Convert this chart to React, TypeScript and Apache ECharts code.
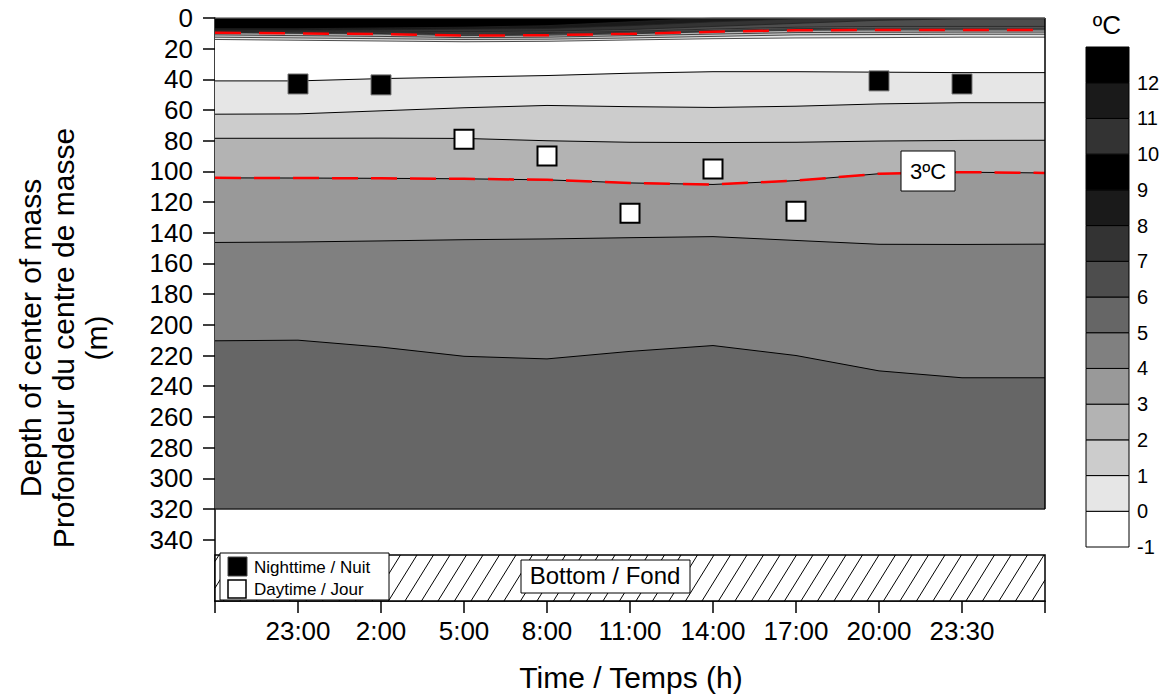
import React, { useEffect, useRef } from "react";
import * as echarts from "echarts";

const FONT = "'Liberation Sans', Arial, sans-serif";

// X positions (index of time tick) and their labels
const X_POS = [0, 1, 2, 3, 4, 5, 6, 7, 8, 9, 10];
const TIME_LABELS = ["", "23:00", "2:00", "5:00", "8:00", "11:00", "14:00", "17:00", "20:00", "23:30", ""];

// Depth axis
const Y_TICKS = [0, 20, 40, 60, 80, 100, 120, 140, 160, 180, 200, 220, 240, 260, 280, 300, 320, 340];
const AXIS_MAX = 380;
const DATA_BOTTOM = 320;
const SEABED_TOP = 350;

// Colour scale (ºC): band [T, T+1] uses COLORBAR_COLORS[T + 1]
const COLOR_LEVELS = [-1, 0, 1, 2, 3, 4, 5, 6, 7, 8, 9, 10, 11, 12];
const COLORBAR_COLORS = [
  "#ffffff", "#e6e6e6", "#cccccc", "#b3b3b3", "#999999", "#808080", "#666666",
  "#4d4d4d", "#333333", "#1a1a1a", "#000000", "#333333", "#1a1a1a", "#000000",
];

// Surface isotherms (depth, m)
const SURF_T9 = [7, 7, 6.5, 6, 5, 2.5, 0, 0, 0, 0, 0];
const SURF_T8 = [7.8, 7.8, 7.6, 7.2, 6.8, 5, 2.5, 0.5, 0, 0, 0];
const SURF_T7 = [8.3, 8.4, 8.6, 8.9, 8.5, 7.5, 5.5, 3.5, 1.5, 0.5, 0.5];
const SURF_T6 = [8.7, 8.9, 9.2, 9.8, 9.5, 8.7, 7.2, 6, 5.5, 5.5, 5.5];
const SURF_T5 = [9, 9.3, 9.7, 10.4, 10.1, 9.3, 8.1, 6.9, 6.6, 6.6, 6.6];
const SURF_T4 = [9.3, 9.7, 10.1, 11, 10.6, 9.8, 8.6, 7.5, 7.2, 7.2, 7.2];
const SURF_T3 = [9.6, 10, 10.5, 11.5, 11.2, 10.3, 9, 8, 7.8, 7.8, 7.8];
const SURF_T2 = [11, 11.5, 12, 12.8, 12.5, 11.5, 10.5, 9.5, 9.3, 9.2, 9.2];
const SURF_T1 = [12.5, 13, 13.5, 14, 13.8, 13, 12, 11, 10.8, 10.6, 10.6];
const SURF_T0 = [14, 14.5, 15, 15.5, 15.2, 14.3, 13.5, 13, 12.8, 12.5, 12.5];

// Deep isotherms (depth, m)
const DEEP_T0 = [41, 41, 39.5, 38.5, 37.5, 36, 35, 35, 35.3, 35.6, 35.6];
const DEEP_T1 = [62.7, 62.5, 60.5, 58.5, 57, 57.8, 58.3, 57.5, 56, 55.2, 55.2];
const DEEP_T2 = [78.4, 78.4, 78.3, 78.5, 80, 81, 81.2, 81, 80.2, 79.8, 79.7];
const DEEP_T3 = [104.2, 104.3, 104.5, 104.8, 105.5, 107.5, 108.5, 106, 101.5, 100.5, 101];
const DEEP_T4 = [146.3, 146, 145.3, 144.5, 144, 143.2, 142.5, 145, 147.5, 147.6, 147.4];
const DEEP_T5 = [210.4, 210, 214.5, 220.5, 222.2, 217.3, 213.5, 220, 230, 234.5, 234.5];
const BOTTOM_LINE = [320, 320, 320, 320, 320, 320, 320, 320, 320, 320, 320];

// Centre of mass depth
const NIGHT_X = [1, 2, 8, 9];
const NIGHT_DEPTH = [43, 43.6, 41, 43];
const DAY_X = [3, 4, 5, 6, 7];
const DAY_DEPTH = [79, 90, 127.3, 98.4, 126];

const toPts = (ys: number[]) => X_POS.map((x, i) => [x, ys[i]]);

let zc = 1;
const contour = (name: string, ys: number[], fill: string, lineColor = "#000", lineWidth = 1) => ({
  type: "line",
  name,
  data: toPts(ys),
  symbol: "none",
  showSymbol: false,
  silent: true,
  z: zc++,
  lineStyle: { color: lineColor, width: lineWidth },
  areaStyle: { color: fill, opacity: 1, origin: "start" },
});

function buildOption() {
  zc = 1;
  const series: any[] = [
    contour("bottom", BOTTOM_LINE, COLORBAR_COLORS[6], "#222", 1.5),
    contour("d5", DEEP_T5, COLORBAR_COLORS[5]),
    contour("d4", DEEP_T4, COLORBAR_COLORS[4]),
    contour("d3", DEEP_T3, COLORBAR_COLORS[3]),
    contour("d2", DEEP_T2, COLORBAR_COLORS[2]),
    contour("d1", DEEP_T1, COLORBAR_COLORS[1]),
    contour("d0", DEEP_T0, COLORBAR_COLORS[0]),
    contour("s0", SURF_T0, COLORBAR_COLORS[1], "#222", 0.8),
    contour("s1", SURF_T1, COLORBAR_COLORS[2], "#222", 0.8),
    contour("s2", SURF_T2, COLORBAR_COLORS[3], "#222", 0.8),
    contour("s3", SURF_T3, COLORBAR_COLORS[4], "#222", 0.8),
    contour("s4", SURF_T4, COLORBAR_COLORS[5], "#222", 0.8),
    contour("s5", SURF_T5, COLORBAR_COLORS[6], "#222", 0.8),
    contour("s6", SURF_T6, COLORBAR_COLORS[7], "#222", 0.8),
    contour("s7", SURF_T7, COLORBAR_COLORS[8], "#222", 0.8),
    contour("s8", SURF_T8, COLORBAR_COLORS[9], "#222", 0.8),
    contour("s9", SURF_T9, COLORBAR_COLORS[10], "#222", 0.8),
    {
      type: "line",
      name: "3C deep",
      data: toPts(DEEP_T3),
      symbol: "none",
      silent: true,
      z: 40,
      lineStyle: { color: "#ff0000", width: 2.5, type: [26, 13] },
    },
    {
      type: "line",
      name: "3C surface",
      data: toPts(SURF_T3),
      symbol: "none",
      silent: true,
      z: 40,
      lineStyle: { color: "#ff0000", width: 2.5, type: [26, 18] },
    },
    {
      type: "line",
      name: "frame-right",
      data: [[X_POS[X_POS.length - 1], 0], [X_POS[X_POS.length - 1], DATA_BOTTOM]],
      symbol: "none",
      silent: true,
      z: 41,
      lineStyle: { color: "#000", width: 1.5 },
    },
    {
      type: "line",
      name: "frame-top",
      data: [[X_POS[0], 0], [X_POS[X_POS.length - 1], 0]],
      symbol: "none",
      silent: true,
      z: 41,
      lineStyle: { color: "#555", width: 1.5 },
    },
    {
      type: "scatter",
      name: "Nighttime / Nuit",
      data: NIGHT_X.map((x, i) => [x, NIGHT_DEPTH[i]]),
      symbol: "rect",
      symbolSize: 20,
      z: 50,
      itemStyle: { color: "#000", borderColor: "#777", borderWidth: 1, opacity: 1 },
    },
    {
      type: "scatter",
      name: "Daytime / Jour",
      data: DAY_X.map((x, i) => [x, DAY_DEPTH[i]]),
      symbol: "rect",
      symbolSize: 19,
      z: 50,
      itemStyle: { color: "#fff", borderColor: "#000", borderWidth: 2, opacity: 1 },
    },
    {
      type: "custom",
      name: "Bottom / Fond",
      xAxisIndex: 0,
      yAxisIndex: 0,
      z: 30,
      silent: true,
      data: [[X_POS[0], SEABED_TOP, X_POS[X_POS.length - 1], AXIS_MAX]],
      encode: { x: [0, 2], y: [1, 3] },
      renderItem: (params: any, api: any) => {
        const p0 = api.coord([api.value(0), api.value(1)]);
        const p1 = api.coord([api.value(2), api.value(3)]);
        const left = Math.min(p0[0], p1[0]);
        const right = Math.max(p0[0], p1[0]);
        const top = Math.min(p0[1], p1[1]);
        const bottom = Math.max(p0[1], p1[1]);
        const h = bottom - top;
        const dx = h * 0.62;
        const step = 16.5;
        const children: any[] = [
          {
            type: "rect",
            shape: { x: left, y: top, width: right - left, height: h },
            style: { fill: "#fff", stroke: "#000", lineWidth: 1.5 },
          },
        ];
        for (let xb = left - dx + 4; xb < right; xb += step) {
          let xa = xb, ya = bottom, xc = xb + dx, yc = top;
          if (xa < left) {
            const t = (left - xa) / dx;
            xa = left;
            ya = bottom - t * h;
          }
          if (xc > right) {
            const t = (xc - right) / dx;
            xc = right;
            yc = top + t * h;
          }
          if (xc - xa < 0.5) continue;
          children.push({
            type: "line",
            shape: { x1: xa, y1: ya, x2: xc, y2: yc },
            style: { stroke: "#000", lineWidth: 1 },
          });
        }
        return { type: "group", children };
      },
    },
    {
      type: "custom",
      name: "colorbar",
      xAxisIndex: 1,
      yAxisIndex: 1,
      silent: true,
      data: COLOR_LEVELS.map((v) => [0, v]),
      encode: { x: 0, y: 1 },
      renderItem: (params: any, api: any) => {
        const v = api.value(1);
        const a = api.coord([0, v + 1]);
        const b = api.coord([1, v]);
        return {
          type: "rect",
          shape: { x: a[0], y: a[1], width: b[0] - a[0], height: b[1] - a[1] },
          style: { fill: COLORBAR_COLORS[params.dataIndex], stroke: "#000", lineWidth: 1 },
        };
      },
    },
  ];

  const txt = (text: string, x: number, y: number, size: number, align = "center") => ({
    type: "text",
    x,
    y,
    z: 102,
    silent: true,
    style: {
      text,
      fill: "#000",
      fontSize: size,
      fontFamily: FONT,
      align,
      textAlign: align,
      verticalAlign: "middle",
      textVerticalAlign: "middle",
    },
  });

  const graphic: any[] = [
    {
      type: "text",
      x: 63,
      y: 338,
      rotation: Math.PI / 2,
      z: 100,
      silent: true,
      style: {
        text: "Depth of center of mass\nProfondeur du centre de masse\n(m)",
        fill: "#000",
        fontSize: 30,
        fontFamily: FONT,
        lineHeight: 33,
        align: "center",
        textAlign: "center",
        verticalAlign: "middle",
        textVerticalAlign: "middle",
      },
    },
    txt("Time / Temps (h)", 631, 677, 30),
    txt("ºC", 1107, 25, 26),
    {
      type: "rect",
      z: 100,
      silent: true,
      shape: { x: 901, y: 151, width: 54, height: 40 },
      style: { fill: "#fff", stroke: "#000", lineWidth: 1 },
    },
    txt("3ºC", 928, 171, 22),
    {
      type: "rect",
      z: 100,
      silent: true,
      shape: { x: 220, y: 553, width: 169, height: 47 },
      style: { fill: "#fff", stroke: "#000", lineWidth: 1 },
    },
    {
      type: "rect",
      z: 101,
      silent: true,
      shape: { x: 228, y: 557, width: 19, height: 19 },
      style: { fill: "#000", stroke: "#444", lineWidth: 1 },
    },
    {
      type: "rect",
      z: 101,
      silent: true,
      shape: { x: 228, y: 580, width: 18, height: 18 },
      style: { fill: "#fff", stroke: "#000", lineWidth: 1.5 },
    },
    txt("Nighttime / Nuit", 254, 567, 17, "left"),
    txt("Daytime / Jour", 254, 589, 17, "left"),
    {
      type: "rect",
      z: 100,
      silent: true,
      shape: { x: 521, y: 560, width: 169, height: 33 },
      style: { fill: "#fff", stroke: "#000", lineWidth: 1 },
    },
    txt("Bottom / Fond", 605, 575, 24),
  ];

  return {
    animation: false,
    backgroundColor: "#fff",
    textStyle: { fontFamily: FONT },
    grid: [
      { left: 215, top: 18, width: 830, height: 583 },
      { left: 1086, top: 47, width: 43, height: 500 },
    ],
    xAxis: [
      {
        gridIndex: 0,
        type: "value",
        position: "bottom",
        min: 0,
        max: 10,
        interval: 1,
        axisLine: { show: true, onZero: false, lineStyle: { color: "#000", width: 1.5 } },
        axisTick: { show: true, inside: false, length: 12, lineStyle: { color: "#000", width: 1.5 } },
        axisLabel: {
          formatter: (v: number) => TIME_LABELS[Math.round(v)] ?? "",
          fontSize: 26,
          color: "#000",
          margin: 17,
          fontFamily: FONT,
        },
        splitLine: { show: false },
      },
      { gridIndex: 1, type: "value", min: 0, max: 1, show: false },
    ],
    yAxis: [
      {
        gridIndex: 0,
        type: "value",
        inverse: true,
        min: 0,
        max: AXIS_MAX,
        interval: 20,
        axisLine: { show: true, onZero: false, lineStyle: { color: "#000", width: 1.5 } },
        axisTick: { show: true, length: 12, customValues: Y_TICKS, lineStyle: { color: "#000", width: 1.5 } },
        axisLabel: {
          customValues: Y_TICKS,
          fontSize: 26,
          color: "#000",
          margin: 22,
          fontFamily: FONT,
        },
        splitLine: { show: false },
      },
      {
        gridIndex: 1,
        type: "value",
        position: "right",
        min: -1,
        max: 13,
        interval: 1,
        axisLine: { show: false },
        axisTick: { show: false },
        axisLabel: { customValues: COLOR_LEVELS, fontSize: 20, color: "#000", margin: 8, fontFamily: FONT },
        splitLine: { show: false },
      },
    ],
    series,
    graphic,
  };
}

export default function App() {
  const ref = useRef<HTMLDivElement>(null);
  useEffect(() => {
    const chart = echarts.init(ref.current!, null, { renderer: "svg" });
    chart.setOption(buildOption() as any);
    return () => chart.dispose();
  }, []);
  return (
    <div
      ref={ref}
      style={{ position: "fixed", left: 0, top: 0, width: 1172, height: 698, background: "#fff" }}
    />
  );
}
